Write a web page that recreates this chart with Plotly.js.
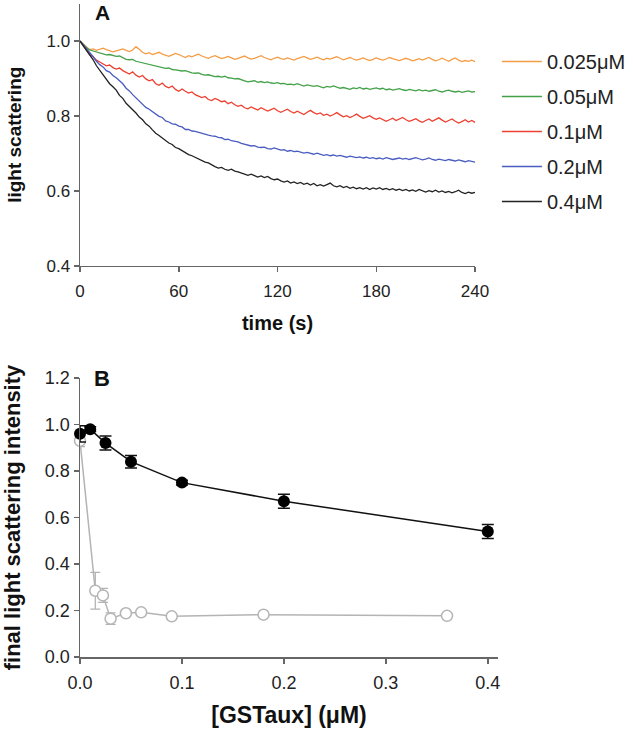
<!DOCTYPE html>
<html>
<head>
<meta charset="utf-8">
<script src="https://cdn.plot.ly/plotly-3.0.1.min.js"></script>
<style>html,body{margin:0;padding:0;background:#fff}#chart{width:633px;height:732px}</style>
</head>
<body>
<div id="chart"></div>
<script>
// ---------- Panel A: kinetic traces (time in s, sampled every 2 s) ----------
const timeS = Array.from({length: 121}, (_, i) => i * 2);
const seriesNames = ["0.025\u03BCM", "0.05\u03BCM", "0.1\u03BCM", "0.2\u03BCM", "0.4\u03BCM"];
const seriesColors = ["#f49d45", "#43a148", "#ee4030", "#4a5cc0", "#222222"];

const trace0025 = [1.000,0.991,0.984,0.977,0.979,0.975,0.978,0.981,0.977,0.974,
 0.971,0.974,0.977,0.979,0.975,0.972,0.976,0.985,0.978,0.970,
 0.966,0.969,0.964,0.967,0.970,0.965,0.961,0.959,0.963,0.967,
 0.964,0.959,0.956,0.961,0.958,0.962,0.965,0.960,0.956,0.954,
 0.958,0.961,0.957,0.953,0.956,0.959,0.955,0.951,0.954,0.957,
 0.960,0.955,0.952,0.954,0.958,0.961,0.956,0.953,0.950,0.954,
 0.957,0.953,0.951,0.955,0.952,0.949,0.953,0.956,0.959,0.955,
 0.951,0.954,0.957,0.953,0.950,0.954,0.952,0.955,0.958,0.954,
 0.950,0.953,0.956,0.952,0.949,0.952,0.955,0.951,0.948,0.951,
 0.955,0.952,0.949,0.952,0.956,0.953,0.950,0.948,0.951,0.954,
 0.951,0.947,0.950,0.953,0.949,0.952,0.956,0.951,0.947,0.950,
 0.954,0.950,0.946,0.951,0.955,0.949,0.945,0.948,0.946,0.949,
 0.945];

const trace005 = [1.000,0.990,0.982,0.976,0.973,0.970,0.967,0.966,0.963,0.964,
 0.961,0.959,0.960,0.955,0.951,0.950,0.951,0.946,0.944,0.941,
 0.938,0.937,0.934,0.933,0.931,0.930,0.927,0.928,0.924,0.923,
 0.922,0.920,0.921,0.917,0.915,0.914,0.915,0.911,0.909,0.910,
 0.907,0.905,0.906,0.904,0.906,0.902,0.901,0.899,0.900,0.896,
 0.894,0.891,0.892,0.894,0.890,0.892,0.889,0.891,0.888,0.887,
 0.889,0.886,0.887,0.884,0.885,0.883,0.886,0.882,0.880,0.883,
 0.881,0.879,0.881,0.878,0.875,0.879,0.877,0.880,0.876,0.874,
 0.876,0.874,0.871,0.875,0.873,0.876,0.872,0.874,0.871,0.873,
 0.875,0.872,0.874,0.870,0.872,0.869,0.871,0.873,0.870,0.868,
 0.871,0.869,0.867,0.870,0.867,0.869,0.866,0.868,0.870,0.866,
 0.864,0.867,0.869,0.866,0.864,0.866,0.863,0.865,0.867,0.864,
 0.865];

const trace01 = [1.000,0.988,0.974,0.963,0.958,0.949,0.944,0.940,0.934,0.936,
 0.929,0.925,0.928,0.921,0.917,0.912,0.918,0.909,0.904,0.908,
 0.899,0.894,0.897,0.886,0.882,0.888,0.879,0.875,0.880,0.871,
 0.866,0.872,0.866,0.861,0.864,0.857,0.853,0.849,0.852,0.844,
 0.841,0.847,0.843,0.838,0.840,0.833,0.837,0.830,0.826,0.829,
 0.822,0.819,0.824,0.820,0.816,0.822,0.818,0.813,0.817,0.821,
 0.814,0.810,0.814,0.818,0.812,0.808,0.813,0.808,0.804,0.810,
 0.815,0.809,0.805,0.808,0.802,0.805,0.800,0.804,0.809,0.803,
 0.798,0.801,0.796,0.800,0.805,0.799,0.794,0.797,0.801,0.795,
 0.791,0.795,0.790,0.786,0.790,0.794,0.788,0.791,0.796,0.790,
 0.786,0.789,0.793,0.787,0.783,0.788,0.792,0.786,0.790,0.795,
 0.789,0.784,0.788,0.792,0.786,0.781,0.785,0.790,0.784,0.788,
 0.783];

const trace02 = [1.000,0.990,0.979,0.967,0.958,0.946,0.937,0.931,0.921,0.917,
 0.908,0.902,0.893,0.886,0.874,0.867,0.857,0.849,0.839,0.832,
 0.823,0.818,0.811,0.806,0.799,0.796,0.787,0.784,0.779,0.778,
 0.773,0.771,0.764,0.764,0.760,0.759,0.756,0.754,0.750,0.749,
 0.747,0.746,0.743,0.742,0.737,0.738,0.734,0.733,0.731,0.727,
 0.724,0.723,0.720,0.721,0.717,0.716,0.717,0.713,0.712,0.715,
 0.711,0.709,0.710,0.706,0.708,0.705,0.706,0.704,0.701,0.703,
 0.700,0.698,0.701,0.697,0.695,0.697,0.694,0.696,0.693,0.695,
 0.692,0.690,0.693,0.691,0.689,0.691,0.688,0.690,0.687,0.689,
 0.686,0.688,0.685,0.689,0.687,0.684,0.686,0.688,0.685,0.687,
 0.684,0.686,0.689,0.686,0.683,0.685,0.688,0.684,0.682,0.685,
 0.683,0.681,0.684,0.682,0.680,0.683,0.680,0.678,0.681,0.679,
 0.677];

const trace04 = [1.000,0.988,0.974,0.961,0.950,0.934,0.922,0.913,0.899,0.886,
 0.878,0.869,0.855,0.847,0.834,0.826,0.817,0.808,0.797,0.790,
 0.779,0.773,0.763,0.754,0.748,0.741,0.735,0.728,0.724,0.716,
 0.713,0.707,0.703,0.697,0.694,0.690,0.684,0.681,0.677,0.675,
 0.669,0.665,0.661,0.663,0.658,0.655,0.658,0.653,0.651,0.647,
 0.645,0.642,0.645,0.641,0.637,0.640,0.636,0.639,0.633,0.630,
 0.632,0.627,0.624,0.627,0.621,0.624,0.620,0.623,0.618,0.621,
 0.616,0.620,0.614,0.617,0.613,0.617,0.621,0.614,0.611,0.614,
 0.609,0.612,0.607,0.610,0.606,0.609,0.605,0.609,0.604,0.608,
 0.605,0.609,0.604,0.607,0.603,0.606,0.602,0.605,0.601,0.604,
 0.600,0.603,0.599,0.604,0.600,0.597,0.601,0.598,0.602,0.597,
 0.600,0.596,0.599,0.595,0.598,0.602,0.596,0.593,0.597,0.594,
 0.596];

const seriesValues = [trace0025, trace005, trace01, trace02, trace04];

// ---------- Panel B: final light scattering vs [GSTaux] ----------
const filledX = [0, 0.01, 0.025, 0.05, 0.1, 0.2, 0.4];
const filledY = [0.96, 0.98, 0.92, 0.84, 0.75, 0.67, 0.54];
const filledErr = [0.035, 0.01, 0.03, 0.027, 0.01, 0.03, 0.03];

const openX = [0, 0.015, 0.0225, 0.03, 0.045, 0.06, 0.09, 0.18, 0.36];
const openY = [0.93, 0.285, 0.265, 0.165, 0.188, 0.192, 0.175, 0.182, 0.177];
const openErr = [0.025, 0.079, 0.03, 0.025, 0.005, 0.005, 0.005, 0.005, 0.005];

const ticksA_x = [0, 60, 120, 180, 240];
const ticksA_y = [0.4, 0.6, 0.8, 1.0];
const ticksB_x = [0, 0.1, 0.2, 0.3, 0.4];
const ticksB_y = [0, 0.2, 0.4, 0.6, 0.8, 1.0, 1.2];

const FONT = "Liberation Sans, Arial, Helvetica, sans-serif";
const AXC = "#666666";
const TXT = "#222222";

const traces = [];
seriesValues.forEach((vals, i) => {
  traces.push({
    type: "scatter", mode: "lines", x: timeS, y: vals,
    name: seriesNames[i], legendgroup: "g" + i,
    line: {color: seriesColors[i], width: 1.3},
    xaxis: "x", yaxis: "y", hoverinfo: "skip"
  });
});
traces.push({
  type: "scatter", mode: "lines+markers", x: openX, y: openY,
  showlegend: false, cliponaxis: false,
  line: {color: "#b4b4b4", width: 1.5},
  marker: {symbol: "circle", size: 11, color: "#ffffff", line: {color: "#b4b4b4", width: 1.5}},
  error_y: {type: "data", array: openErr, visible: true, color: "#b4b4b4", thickness: 1.3, width: 5},
  xaxis: "x2", yaxis: "y2"
});
traces.push({
  type: "scatter", mode: "lines+markers", x: filledX, y: filledY,
  showlegend: false, cliponaxis: false,
  line: {color: "#111111", width: 1.5},
  marker: {symbol: "circle", size: 12, color: "#000000"},
  error_y: {type: "data", array: filledErr, visible: true, color: "#111111", thickness: 1.5, width: 6},
  xaxis: "x2", yaxis: "y2"
});

const axisCommon = {
  showgrid: false, zeroline: false, showline: true, linecolor: AXC, linewidth: 1.5,
  ticks: "outside", ticklen: 5, tickwidth: 1.5, tickcolor: AXC,
  tickfont: {family: FONT, size: 17, color: TXT}, mirror: false, fixedrange: true
};

const layout = {
  width: 633, height: 732,
  margin: {l: 80, r: 134, t: 3, b: 75},
  paper_bgcolor: "#ffffff", plot_bgcolor: "#ffffff",
  font: {family: FONT, color: TXT},
  showlegend: true,
  legend: {x: 0.995, xanchor: "left", y: 0.9404, yanchor: "top",
           font: {family: FONT, size: 20, color: TXT}, tracegroupgap: 6,
           bgcolor: "rgba(0,0,0,0)", itemwidth: 40},
  xaxis: Object.assign({}, axisCommon, {
    domain: [0, 0.9451], range: [0, 240], tickvals: ticksA_x, anchor: "y", ticklabelstandoff: 4,
    title: {text: "<b>time (s)</b>", font: {family: FONT, size: 20, color: "#111"}, standoff: 16}
  }),
  yaxis: Object.assign({}, axisCommon, {
    domain: [0.5979, 0.9992], range: [0.4, 1.1], tickvals: ticksA_y, tickformat: ".1f", anchor: "x",
    title: {text: "<b>light scattering</b>", font: {family: FONT, size: 19, color: "#111"}, standoff: 20}
  }),
  xaxis2: Object.assign({}, axisCommon, {
    domain: [0, 1], range: [0, 0.41], tickvals: ticksB_x, tickformat: ".1f", anchor: "y2", ticklabelstandoff: 4,
    tickfont: {family: FONT, size: 18, color: TXT},
    title: {text: "<b>[GSTaux] (\u03BCM)</b>", font: {family: FONT, size: 23, color: "#111"}, standoff: 15}
  }),
  yaxis2: Object.assign({}, axisCommon, {
    domain: [0, 0.4266], range: [0, 1.2], tickvals: ticksB_y, tickformat: ".1f", anchor: "x2",
    tickfont: {family: FONT, size: 18, color: TXT},
    title: {text: "<b>final light scattering intensity</b>", font: {family: FONT, size: 22, color: "#111"}, standoff: 21}
  }),
  annotations: [
    {text: "<b>A</b>", xref: "paper", yref: "paper", x: (103 - 80) / 419, y: (657 - 13) / 654,
     xanchor: "center", yanchor: "middle", showarrow: false, font: {family: FONT, size: 21, color: "#111"}},
    {text: "<b>B</b>", xref: "paper", yref: "paper", x: (102 - 80) / 419, y: (657 - 378) / 654,
     xanchor: "center", yanchor: "middle", showarrow: false, font: {family: FONT, size: 22, color: "#111"}}
  ]
};

Plotly.newPlot("chart", traces, layout, {staticPlot: true, displayModeBar: false});
</script>
</body>
</html>
